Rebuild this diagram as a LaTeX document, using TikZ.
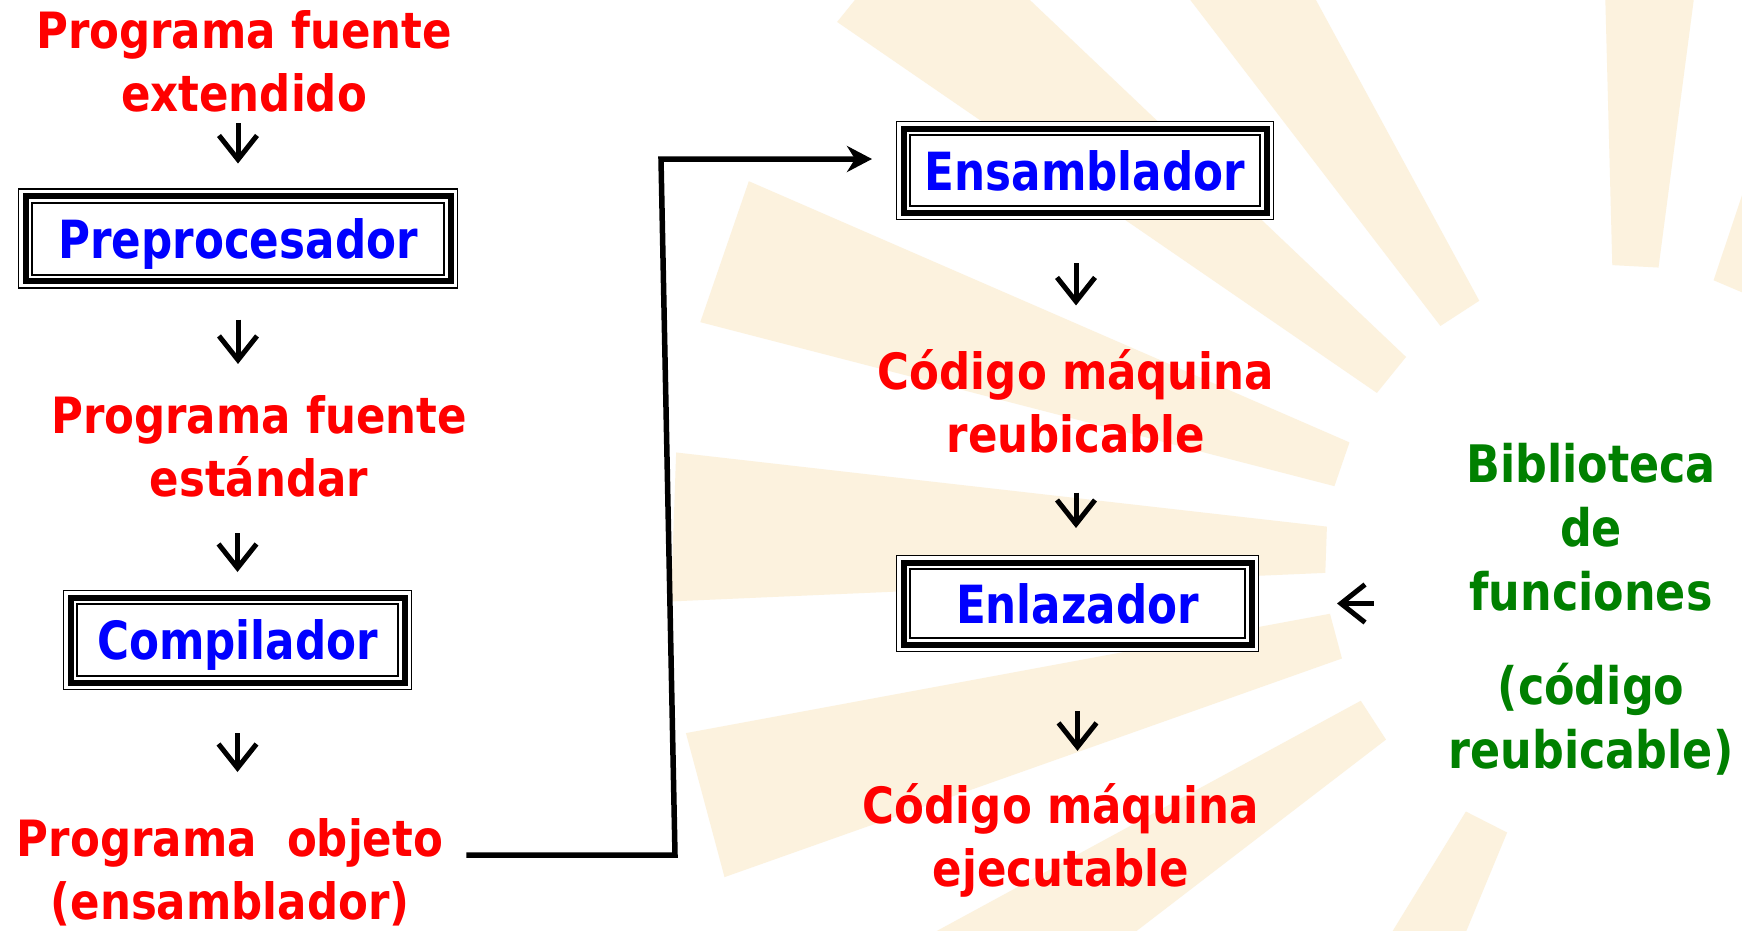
\documentclass[tikz,border=0pt]{standalone}
\usepackage{fontspec}
\usepackage{tikz}
\usetikzlibrary{positioning, arrows.meta}
\newfontfamily\redfont{DejaVu Sans}[FakeStretch=0.87]
\newfontfamily\bluefont{DejaVu Sans}[FakeStretch=0.83]
\newfontfamily\greenfont{DejaVu Sans}[FakeStretch=0.86]
\definecolor{raycolor}{RGB}{252,242,222}
\definecolor{libgreen}{RGB}{0,128,0}
\tikzset{
stage/.style={draw, line width=2pt, fill=white, preaction={draw=white, line width=27pt}, outer sep=0pt, inner sep=0pt, text=blue, font=\bluefont\bfseries\fontsize{52.6}{63}\selectfont, text height=40pt, text depth=1pt}, % the boxed programs
data/.style={text=red, align=center, inner sep=0pt, font=\redfont\bfseries\fontsize{50}{63}\selectfont}, % what goes in and out
extra/.style={text=libgreen, align=center, inner sep=0pt, font=\greenfont\bfseries\fontsize{51.7}{64}\selectfont},
flow/.style={-{Straight Barb[length=24pt,width=38pt]}, line width=5pt}, % the short arrows
link/.style={-{Stealth[length=25pt,width=26pt,inset=8pt]}, line width=5.5pt},
ray/.style={fill=raycolor},
}

\begin{document}
\begin{tikzpicture}[x=1pt, y=-1pt]
                \useasboundingbox[fill=white] (0,0) rectangle (1742,930);
                % the sun in the background
                \begin{scope}
                    \clip (0,0) rectangle (1742,930);
                    \foreach \a in {67,87,123,141,161,178,195,213,243}
                        \fill[ray, shift={(1620,560)}] (-\a-4.5:295) -- (-\a-4.5:950) -- (-\a+4.5:950) -- (-\a+4.5:295) -- cycle;
                \end{scope}
                \node[data] (src) at (244,61) {Programa fuente\\extendido};
                \node[stage, minimum width=412pt, minimum height=72pt, below of=src, node distance=177.5pt, xshift=-6pt] (pre) {Preprocesador};
                \node[data, below of=pre, node distance=207.5pt, xshift=21pt] (std) {Programa fuente\\estándar};
                \node[stage, minimum width=321pt, minimum height=72pt, below of=std, node distance=194pt, xshift=-21.5pt] (comp) {Compilador};
                \node[data, below of=comp, node distance=232pt, xshift=-7.5pt] (obj) {Programa~~objeto\\(ensamblador)};
                \node[stage, minimum width=350pt, minimum height=71pt] (ens) at (1085,170.5) {Ensamblador};
                \node[data, below of=ens, node distance=231pt, xshift=-9pt] (reub) {Código máquina\\reubicable};
                \node[stage, minimum width=335pt, minimum height=69pt, below of=reub, node distance=202pt, xshift=1.5pt] (enl) {Enlazador};
                \node[data, below of=enl, node distance=236.5pt, xshift=-16.5pt] (exe) {Código máquina\\ejecutable};
                \node[extra, right of=enl, node distance=513.5pt, yshift=76.5pt] (lib) {Biblioteca\\de\\funciones};
                \node[extra, below of=lib, node distance=192.5pt] (libnote) {(código\\reubicable)};
                % triple frames
                \foreach \b in {pre, comp, ens, enl} {
                    \draw[line width=6pt] ([shift={(-6.5,6.5)}]\b.south west) rectangle ([shift={(6.5,-6.5)}]\b.north east);
                    \draw[line width=1.5pt] ([shift={(-13.5,13.5)}]\b.south west) rectangle ([shift={(13.5,-13.5)}]\b.north east);
                }
                \draw[flow, shorten <=11pt, shorten >=39pt] (pre.north |- src.south) -- (pre.north);
                \draw[flow, shorten <=45pt, shorten >=31pt] (pre.south) -- (pre.south |- std.north);
                \draw[flow, shorten <=36pt, shorten >=32pt] (comp.north |- std.south) -- (comp.north);
                \draw[flow, shorten <=57pt, shorten >=46pt] (comp.south) -- (comp.south |- obj.north);
                \draw[flow, shorten <=57pt, shorten >=44pt] (reub.north |- ens.south) -- (reub.north);
                \draw[flow, shorten <=39pt, shorten >=41pt] (reub.south) -- (reub.south |- enl.north);
                \draw[flow, shorten <=73pt, shorten >=32pt] (enl.south) -- (enl.south |- exe.north);
                \draw[flow, shorten <=92pt, shorten >=92pt] (lib.west |- enl.east) -- (enl.east);
                \coordinate (bend) at (675,855);
                \coordinate (top) at (661,159);
                \draw[link, shorten <=23pt, shorten >=38pt] (obj.east |- bend) -- (bend) -- (top) -- (ens.west |- top);
                \end{tikzpicture}
\end{document}
